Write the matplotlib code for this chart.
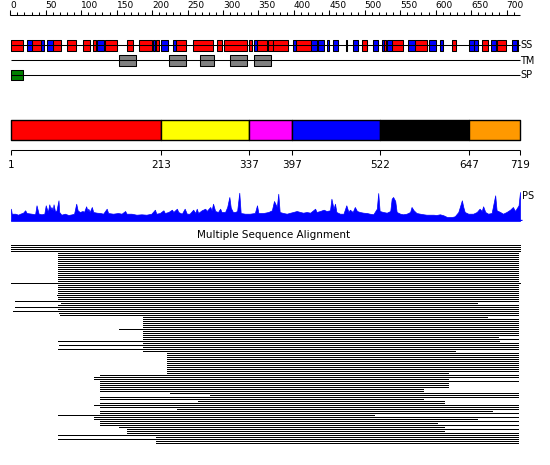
import matplotlib
matplotlib.use("Agg")
import matplotlib.pyplot as plt

# protein length and pixel frame of the tracks
LEN = 719
W, H = 550, 465
X0, X1 = 11, 520

# secondary structure (residue ranges)
helix = [(1, 18), (31, 43), (60, 72), (80, 93), (103, 112), (117, 121), (134, 151),
         (165, 173), (182, 200), (206, 210), (234, 248), (258, 286), (292, 299),
         (301, 334), (337, 341), (348, 362), (364, 370), (371, 392), (403, 424),
         (496, 503), (527, 530), (538, 554), (571, 588), (623, 629), (665, 674),
         (687, 699)]
strand = [(24, 31), (43, 48), (52, 60), (122, 132), (201, 204), (213, 222),
          (229, 234), (344, 348), (399, 403), (424, 433), (434, 443), (447, 450),
          (455, 462), (474, 475), (483, 490), (512, 519), (524, 527), (531, 538),
          (561, 571), (591, 600), (606, 610), (647, 654), (654, 660), (678, 685),
          (708, 715), (715, 716)]
tm = [(153, 177), (224, 248), (268, 287), (310, 334), (344, 368)]
sp = [(1, 18)]

# domains
dom_bounds = [1, 213, 337, 397, 522, 647, 719]
dom_colors = ["#ff0000", "#ffff00", "#ff00ff", "#0000ff", "#000000", "#ff9900"]

# ruler
ruler_major = list(range(0, 701, 50))
ruler_minor = list(range(0, 711, 10))

# PS profile (residue, score)
ps_pos = [1, 1, 2, 7, 11, 14, 18, 21, 23, 30, 35, 37, 40, 44, 48, 50, 53, 55, 57, 58,
          60, 61, 63, 65, 68, 69, 72, 77, 82, 87, 90, 93, 95, 98, 102, 104, 107, 109, 110, 112,
          115, 117, 122, 127, 131, 136, 138, 145, 152, 157, 162, 164, 171, 178, 185, 192, 199, 204, 206, 211,
          216, 218, 223, 228, 230, 235, 237, 242, 246, 249, 253, 258, 261, 263, 265, 270, 275, 277, 282, 284,
          286, 289, 293, 296, 298, 303, 306, 309, 311, 314, 317, 320, 323, 325, 331, 338, 345, 348, 350, 357,
          364, 369, 372, 376, 378, 380, 385, 390, 395, 399, 404, 409, 413, 418, 423, 430, 432, 437, 442, 446,
          451, 453, 456, 458, 460, 465, 470, 474, 477, 479, 483, 486, 489, 493, 498, 503, 507, 512, 517, 519,
          521, 526, 531, 536, 538, 540, 543, 545, 550, 554, 559, 564, 566, 569, 573, 578, 583, 587, 592, 597,
          601, 606, 611, 616, 623, 627, 632, 637, 639, 641, 646, 653, 658, 662, 665, 667, 670, 674, 679, 684,
          686, 691, 695, 700, 705, 709, 712, 714, 717, 719, 719]
ps_val = [0, 12.3, 7.3, 7.3, 6.3, 7.3, 8.3, 10.7, 8, 7.3, 6.7, 15.7, 7.3, 6.7, 7.3, 15.7, 9, 16.7, 11.3, 14,
          10.7, 16.7, 10, 10, 20.7, 9, 6.3, 7.3, 6, 6.7, 7.3, 17.3, 10.7, 9, 10, 9, 14.7, 10, 12.3, 9,
          14, 9, 8.3, 8, 7.3, 12.3, 8, 7.3, 8, 7.3, 10, 7.3, 7.3, 6.3, 6.7, 6.3, 7.3, 11.3, 7.3, 8,
          10.7, 8, 9, 11.3, 9, 12.3, 9, 7.3, 12.3, 7.3, 7.3, 11.3, 8, 12.3, 8, 10.7, 12.3, 10, 14, 10.7,
          17.3, 10, 9, 12.3, 9, 9, 14, 24, 13.3, 9, 9, 10, 28.3, 8, 7.3, 7.3, 8, 15.7, 8, 8,
          9, 10.7, 20, 14, 27.3, 9, 8, 7.3, 8.3, 9, 10, 9, 8.3, 9, 8.3, 12.3, 9, 10, 11.3, 10,
          10.7, 22.3, 12.3, 17.3, 9, 7.3, 7.3, 15.7, 9, 11.3, 9, 14, 10, 9, 8.3, 8, 7.3, 6.7, 12.3, 28,
          10, 9, 8.3, 10, 22.3, 24, 20, 9, 7.3, 6.7, 7.3, 9, 14, 10.7, 8, 7.3, 6.7, 6.3, 6.3, 6.3,
          6, 6.7, 5.7, 4, 4, 4.7, 9, 20.7, 14, 9, 7.3, 7.3, 9, 12.3, 10, 14.7, 9, 7.3, 8, 25.7,
          10.7, 9, 7.3, 9, 11.3, 14, 10, 12.3, 15.7, 29, 0]

# multiple sequence alignment rows (first and last aligned residue)
msa_start = [1, 1, 1, 1, 67, 67, 67, 67, 67, 67,
             67, 67, 67, 67, 67, 67, 67, 67, 67, 1,
             67, 67, 67, 67, 67, 66, 67, 67, 7, 72,
             67, 7, 67, 4, 69, 70, 187, 187, 187, 187,
             187, 187, 153, 187, 187, 187, 187, 187, 67, 187,
             69, 187, 67, 187, 221, 221, 221, 221, 221, 221,
             221, 221, 221, 221, 221, 127, 118, 118, 127, 127,
             127, 127, 127, 127, 225, 282, 127, 127, 265, 127,
             118, 127, 235, 127, 127, 67, 118, 118, 127, 127,
             127, 153, 165, 165, 165, 67, 206, 67, 206, 206]
msa_end = [719, 719, 719, 719, 716, 716, 716, 716, 716, 716,
           716, 716, 716, 716, 716, 716, 716, 716, 716, 719,
           716, 716, 716, 716, 716, 716, 716, 716, 716, 658,
           716, 716, 716, 716, 716, 716, 672, 716, 716, 716,
           716, 716, 716, 716, 716, 716, 688, 716, 690, 716,
           716, 716, 716, 627, 716, 716, 716, 716, 716, 716,
           716, 716, 716, 716, 617, 716, 716, 617, 716, 617,
           617, 617, 582, 582, 716, 716, 716, 582, 612, 612,
           716, 716, 716, 680, 716, 513, 716, 658, 716, 602,
           716, 612, 716, 612, 716, 716, 716, 716, 716, 716]

scale = (X1 - X0) / (LEN - 1)
xlim = (1 - X0 / scale, 1 + (W - X0) / scale)


def px(x):
    # pixel column -> residue coordinate (only for placing labels)
    return 1 + (x - X0) / scale


def spans(ranges):
    return [(a, b - a) for a, b in ranges]


fig = plt.figure(figsize=(W / 100, H / 100), dpi=100)
ax = fig.add_axes([0, 0, 1, 1])
ax.set_xlim(xlim)
ax.set_ylim(H, 0)
ax.axis("off")

lw = 0.75
fs = 7

# ruler
ax.hlines(15.5, 0, LEN, color="black", lw=lw)
ax.vlines(ruler_minor, 12.5, 15.5, color="black", lw=lw)
ax.vlines(ruler_major, 10.5, 15.5, color="black", lw=lw)
for p in ruler_major:
    ax.text(p, 6, str(p), ha="left", va="center", fontsize=6.5)

# SS / TM / SP tracks
for y, lab in [(45.5, "SS"), (60.5, "TM"), (75.5, "SP")]:
    ax.hlines(y, 1, LEN, color="black", lw=lw)
    ax.text(px(520), y, lab, ha="left", va="center", fontsize=fs)
ax.broken_barh(spans(helix), (40, 11), facecolor="#ff0000", edgecolor="black", lw=lw)
ax.broken_barh(spans(strand), (40, 11), facecolor="#0000ff", edgecolor="black", lw=lw)
ax.broken_barh(spans(tm), (55, 11), facecolor="#808080", edgecolor="black", lw=lw)
ax.broken_barh(spans(sp), (70, 10), facecolor="#008000", edgecolor="black", lw=lw)

# domain bar
dom_ranges = list(zip(dom_bounds[:-1], dom_bounds[1:]))
ax.broken_barh(spans(dom_ranges), (120, 20.5), facecolors=dom_colors,
               edgecolor="black", lw=1)
ax.hlines(150.5, 1, LEN, color="black", lw=lw)
ax.vlines(dom_bounds, 150.5, 155.5, color="black", lw=lw)
for b in dom_bounds:
    ax.text(b, 165, str(b), ha="center", va="center", fontsize=7.5)

# PS profile
axp = fig.add_axes([0, (H - 221) / H, 1, 30 / H])
axp.set_xlim(xlim)
axp.set_ylim(0, 30)
axp.axis("off")
axp.fill_between(ps_pos, ps_val, 0, color="#0000ff", lw=0.5)
axp.hlines(0.5, 1, LEN + 3, color="#0000ff", lw=1)
ax.text(px(522), 196, "PS", ha="left", va="center", fontsize=fs)

# multiple sequence alignment
ax.text(px(274), 235, "Multiple Sequence Alignment", ha="center", va="center", fontsize=7.5)
rows = [245 + 2 * i for i in range(len(msa_start))]
ax.hlines(rows, msa_start, msa_end, color="black", lw=0.5, antialiased=False)

fig.savefig("out.png", dpi=100)
